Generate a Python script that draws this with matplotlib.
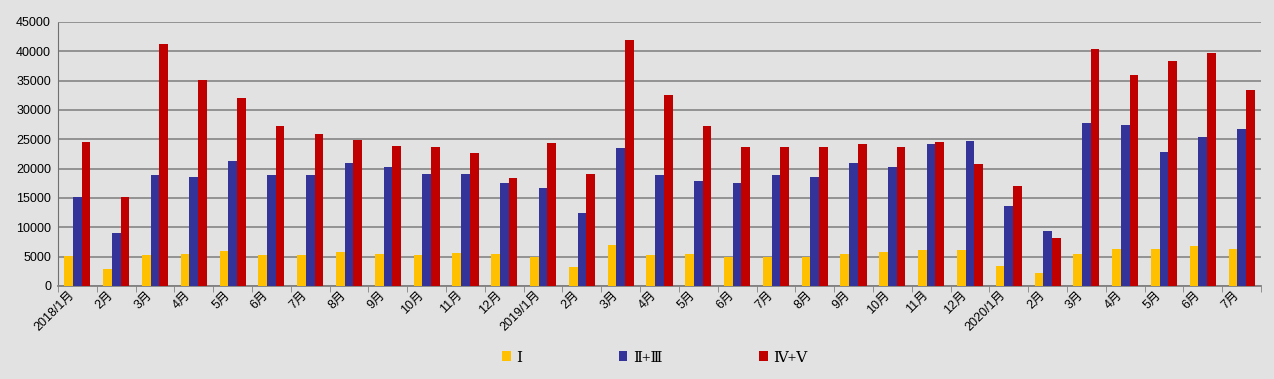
import numpy as np
import matplotlib
matplotlib.use("Agg")
import matplotlib.pyplot as plt
import matplotlib.transforms as mtransforms
from matplotlib.ticker import FixedLocator

plt.rcParams['font.family'] = ['Liberation Sans', 'Noto Sans CJK SC', 'DejaVu Sans']

# month labels
months = (["2018/1月"] + [f"{m}月" for m in range(2, 13)] +
          ["2019/1月"] + [f"{m}月" for m in range(2, 13)] +
          ["2020/1月"] + [f"{m}月" for m in range(2, 8)])

# series values
grade_1 = [5120, 2960, 5230, 5460, 6030, 5290, 5290, 5800, 5460, 5290, 5630, 5460,
           4890, 3300, 7000, 5290, 5460, 4890, 4890, 4890, 5460, 5800, 6140, 6140,
           3410, 2220, 5460, 6310, 6310, 6830, 6310]
grade_2_3 = [15190, 9040, 18940, 18600, 21330, 18940, 18940, 20990, 20310, 19110, 19110, 17580,
             16720, 12460, 23550, 18940, 17920, 17580, 18940, 18600, 20990, 20310, 24230, 24740,
             13650, 9390, 27820, 27470, 22870, 25430, 26790]
grade_4_5 = [24570, 15190, 41180, 35040, 32080, 27300, 25940, 24910, 23890, 23720, 22700, 18430,
             24400, 19110, 41980, 32590, 27300, 23720, 23720, 23720, 24230, 23720, 24570, 20820,
             17060, 8190, 40440, 36010, 38400, 39760, 33450]

series_names = ["Ⅰ", "Ⅱ+Ⅲ", "Ⅳ+Ⅴ"]
colors = ["#FFC000", "#333399", "#C00000"]
bg = "#E2E2E2"

fig = plt.figure(figsize=(12.74, 3.79), dpi=100, facecolor=bg)
ax = fig.add_axes([58 / 1274, 1 - 286 / 379, (1261 - 58) / 1274, (286 - 22) / 379])
ax.set_facecolor(bg)

x = np.arange(len(months))
w = 0.224
for k, (vals, name, c) in enumerate(zip([grade_1, grade_2_3, grade_4_5], series_names, colors)):
    ax.bar(x + (k - 1) * w, vals, width=w, color=c, label=name, zorder=3)

ax.set_xlim(-0.5, len(months) - 0.5)
ax.set_ylim(0, 45000)
ax.set_yticks(np.arange(0, 45001, 5000))
ax.yaxis.grid(True, color="#8C8C8C", linewidth=1.3, zorder=0)
ax.tick_params(axis="y", length=0, labelsize=9, pad=5)

ax.set_xticks(x)
ax.set_xticklabels(months, rotation=45, ha="right", rotation_mode="anchor", fontsize=9)
ax.tick_params(axis="x", which="major", length=0, pad=2)
# shift month labels a little left, as in the original
shift = mtransforms.ScaledTranslation(-0.09, 0, fig.dpi_scale_trans)
for lbl in ax.get_xticklabels():
    lbl.set_transform(lbl.get_transform() + shift)
ax.xaxis.set_minor_locator(FixedLocator(np.arange(-0.5, len(months), 1.0)))
ax.tick_params(axis="x", which="minor", length=4, color="#808080")

for s in ["top", "right"]:
    ax.spines[s].set_visible(False)
ax.spines["bottom"].set_color("#808080")
ax.spines["bottom"].set_linewidth(1.3)
ax.spines["left"].set_color("#707070")
ax.spines["left"].set_linewidth(0.8)
ax.spines["left"].set_linestyle((0, (1, 1)))

leg = fig.legend(loc="center", bbox_to_anchor=(655 / 1274, 1 - 358 / 379), ncol=3, frameon=False,
                 handlelength=0.55, handleheight=0.55, handletextpad=0.4, columnspacing=6.3,
                 prop={"family": ["Liberation Serif", "DejaVu Serif", "Noto Sans CJK SC"], "size": 11})

fig.savefig("out.png", dpi=100, facecolor=bg)
